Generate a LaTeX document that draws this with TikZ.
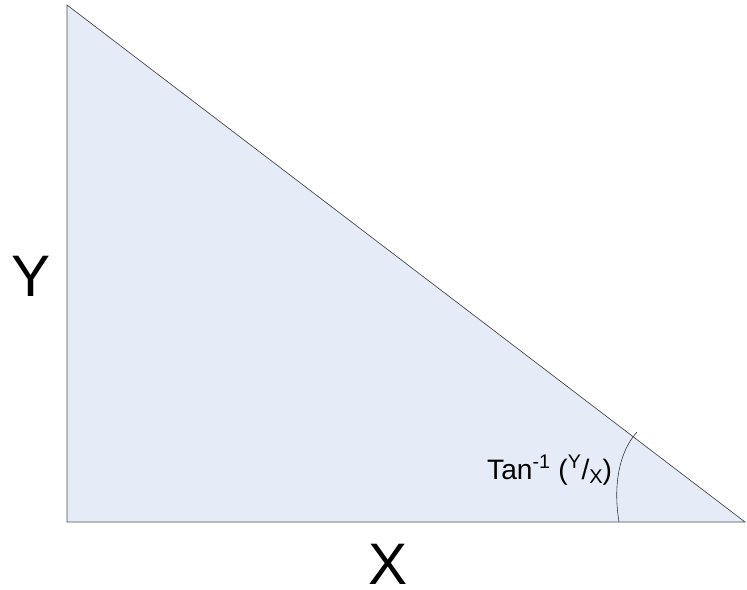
\documentclass[tikz,border=0pt]{standalone}
\usepackage{fontspec}
\setmainfont{Liberation Sans}
\definecolor{trifill}{RGB}{230,236,247}
\begin{document}
\begin{tikzpicture}[x=0.03cm,y=-0.03cm,
  lbl/.style={inner sep=0pt, font=\fontsize{50}{54}\selectfont},
  edge/.style={draw=black!70, line width=0.6pt}]
\useasboundingbox (0,0) rectangle (747,590);
\coordinate (A) at (67,5);
\coordinate (B) at (67,522);
\coordinate (C) at (745,522);
\fill[trifill] (A) -- (B) -- (C) -- cycle;
\draw[edge] (A) -- (B) -- (C) -- cycle;
\coordinate (arcA) at (619,522);
\coordinate (arcB) at (637,432);
\draw[black!80, line width=0.5pt] (arcA) .. controls (613,485) and (619,452) .. (arcB);
\node[lbl] (ylab) at (31,276) {Y};
\node[lbl] (xlab) at (388,564) {X};
\node[inner sep=0pt, font=\fontsize{24}{28}\selectfont, anchor=base west] (ang) at (487,479) {Tan\textsuperscript{-1} (\textsuperscript{Y}/\raisebox{-0.3ex}{\fontsize{17}{20}\selectfont X})};
\end{tikzpicture}
\end{document}
